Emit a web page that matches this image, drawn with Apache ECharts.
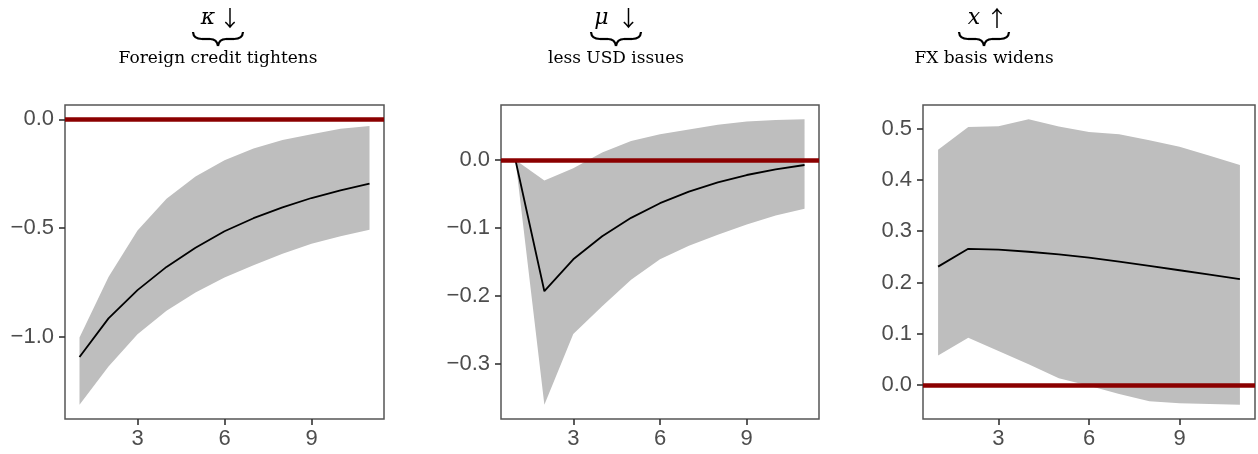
<!DOCTYPE html>
<html><head><meta charset="utf-8">
<script src="https://cdn.jsdelivr.net/npm/echarts@6/dist/echarts.min.js"></script>
<style>html,body{margin:0;padding:0;background:#fff}#c{width:1258px;height:454px}</style>
</head><body><div id="c"></div>
<script>
// ---- data ----
const horizon = [1,2,3,4,5,6,7,8,9,10,11];
const xTickValues = [3,6,9];

const kappaMid  = [-1.094,-0.916,-0.786,-0.679,-0.591,-0.515,-0.455,-0.405,-0.362,-0.327,-0.296];
const kappaHigh = [-1.004,-0.725,-0.511,-0.366,-0.263,-0.188,-0.134,-0.095,-0.069,-0.043,-0.031];
const kappaLow  = [-1.313,-1.137,-0.989,-0.881,-0.797,-0.728,-0.672,-0.618,-0.572,-0.538,-0.508];

const muMid  = [0.000,-0.193,-0.146,-0.112,-0.085,-0.0635,-0.0464,-0.0327,-0.022,-0.0137,-0.0073];
const muHigh = [0.000,-0.030,-0.012,0.011,0.028,0.038,0.045,0.052,0.0566,0.059,0.060];
const muLow  = [0.000,-0.360,-0.256,-0.215,-0.176,-0.146,-0.126,-0.110,-0.095,-0.0815,-0.0717];

const fxMid  = [0.231,0.2657,0.264,0.260,0.2548,0.2484,0.2406,0.2323,0.2239,0.2155,0.2065];
const fxHigh = [0.4587,0.503,0.5045,0.518,0.504,0.4935,0.489,0.4774,0.4645,0.447,0.429];
const fxLow  = [0.058,0.0923,0.0664,0.0406,0.0135,-0.0013,-0.0174,-0.0316,-0.0355,-0.0368,-0.038];

const kappaYTicks = [-1.0,-0.5,0.0];
const muYTicks = [-0.3,-0.2,-0.1,0.0];
const fxYTicks = [0.0,0.1,0.2,0.3,0.4,0.5];

const panelTitles = ['Foreign credit tightens','less USD issues','FX basis widens'];
const panelSymbols = ['κ','μ','x'];
const panelArrows = ['↓','↓','↑'];
const referenceLevel = 0;

// ---- layout / style ----
const panels = [
  {mid:kappaMid, hi:kappaHigh, lo:kappaLow, ticks:kappaYTicks, ymin:-1.379, ymax:0.066,
   grid:{left:65, top:105, width:319, height:314}, cx:218, symX:208, arrX:230},
  {mid:muMid, hi:muHigh, lo:muLow, ticks:muYTicks, ymin:-0.381, ymax:0.081,
   grid:{left:501, top:105, width:318, height:314}, cx:616, symX:601.5, arrX:628.5},
  {mid:fxMid, hi:fxHigh, lo:fxLow, ticks:fxYTicks, ymin:-0.066, ymax:0.546,
   grid:{left:923, top:105, width:332, height:314}, cx:984, symX:974, arrX:997}
];

const fmt = v => (v < 0 ? '\u2212' : '') + Math.abs(v).toFixed(1);
const labelColor = '#4D4D4D';
const frameColor = '#555555';
const grids = [], xAxes = [], yAxes = [], series = [], graphics = [];

function brace(cx, y0, hw) {
  const x0 = cx - hw, x1 = cx + hw, yb = y0 + 7, yt = y0 + 14;
  const st = {stroke:'#000', lineWidth:2.2, fill:null};
  return [
    {type:'bezierCurve', shape:{x1:x0,y1:y0,x2:x0+9,y2:yb,cpx1:x0+0.5,cpy1:yb}, style:st},
    {type:'line', shape:{x1:x0+9,y1:yb,x2:cx-8,y2:yb}, style:st},
    {type:'bezierCurve', shape:{x1:cx-8,y1:yb,x2:cx,y2:yt,cpx1:cx-1,cpy1:yb}, style:st},
    {type:'bezierCurve', shape:{x1:cx+8,y1:yb,x2:cx,y2:yt,cpx1:cx+1,cpy1:yb}, style:st},
    {type:'line', shape:{x1:cx+8,y1:yb,x2:x1-9,y2:yb}, style:st},
    {type:'bezierCurve', shape:{x1:x1,y1:y0,x2:x1-9,y2:yb,cpx1:x1-0.5,cpy1:yb}, style:st}
  ];
}

panels.forEach((p, i) => {
  grids.push(Object.assign({show:true, borderColor:frameColor, borderWidth:1.5, backgroundColor:'#fff', containLabel:false}, p.grid));
  xAxes.push({
    type:'value', gridIndex:i, min:0.5, max:11.5, position:'bottom',
    splitLine:{show:false}, axisLine:{show:false, onZero:false},
    axisTick:{show:true, inside:false, length:6, lineStyle:{color:'#333', width:1.6}, customValues:xTickValues},
    axisLabel:{show:true, customValues:xTickValues, color:labelColor, fontSize:22, fontFamily:'Liberation Sans, Arial, sans-serif', margin:9}
  });
  yAxes.push({
    type:'value', gridIndex:i, min:p.ymin, max:p.ymax, position:'left',
    splitLine:{show:false}, axisLine:{show:false, onZero:false},
    axisTick:{show:true, inside:false, length:6, lineStyle:{color:'#333', width:1.6}, customValues:p.ticks},
    axisLabel:{show:true, customValues:p.ticks, formatter:fmt, color:labelColor, fontSize:22, fontFamily:'Liberation Sans, Arial, sans-serif', margin:11}
  });
  series.push({
    type:'custom', xAxisIndex:i, yAxisIndex:i, silent:true, z:1,
    data: horizon.map((h, k) => [h, p.lo[k], p.hi[k]]),
    encode:{x:0, y:[1,2]},
    renderItem:(params, api) => {
      if (params.dataIndex !== 0) return null;
      const pts = [];
      for (let k = 0; k < horizon.length; k++) pts.push(api.coord([horizon[k], p.hi[k]]));
      for (let k = horizon.length - 1; k >= 0; k--) pts.push(api.coord([horizon[k], p.lo[k]]));
      return {type:'polygon', shape:{points:pts}, style:{fill:'#BEBEBE', stroke:null}};
    }
  });
  series.push({
    type:'line', xAxisIndex:i, yAxisIndex:i, data: horizon.map((h, k) => [h, p.mid[k]]),
    symbol:'none', lineStyle:{color:'#000', width:1.8}, silent:true, z:3,
    markLine:{silent:true, symbol:['none','none'], label:{show:false},
      lineStyle:{color:'#8B0000', width:4.5, type:'solid'}, data:[{yAxis:referenceLevel}], animation:false}
  });
  graphics.push({type:'text', x:p.symX, y:18, style:{text:panelSymbols[i], fontFamily:'DejaVu Serif, serif', fontStyle:'italic', fontSize:22, fill:'#000', align:'center', verticalAlign:'middle'}});
  graphics.push({type:'text', x:p.arrX, y:18, style:{text:panelArrows[i], fontFamily:'Noto Sans CJK SC, DejaVu Sans, sans-serif', fontSize:22, fill:'#000', align:'center', verticalAlign:'middle'}});
  graphics.push(...brace(p.cx, 32, 25));
  graphics.push({type:'text', x:p.cx, y:59, style:{text:panelTitles[i], fontFamily:'DejaVu Serif, serif', fontSize:17, fill:'#000', align:'center', verticalAlign:'middle'}});
});

const chart = echarts.init(document.getElementById('c'), null, {renderer:'canvas'});
chart.setOption({
  animation:false,
  backgroundColor:'#fff',
  grid:grids, xAxis:xAxes, yAxis:yAxes, series:series,
  graphic:{elements:graphics}
});
</script></body></html>
